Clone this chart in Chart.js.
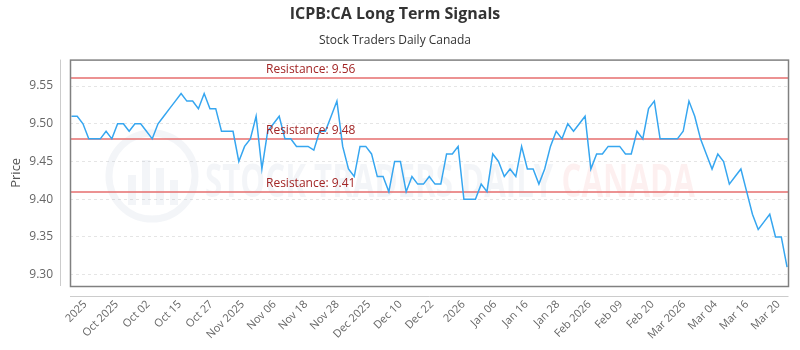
<!DOCTYPE html>
<html>
<head>
<meta charset="utf-8">
<script src="https://cdn.jsdelivr.net/npm/chart.js@4/dist/chart.umd.min.js"></script>
<style>
  html, body { margin: 0; padding: 0; background: #fff; }
  #wrap { width: 800px; height: 350px; }
</style>
</head>
<body>
<div id="wrap"><canvas id="chart"></canvas></div>
<script>
// daily closes, left to right
const prices = [
  9.51, 9.51, 9.50, 9.48, 9.48, 9.48, 9.49, 9.48, 9.50, 9.50,
  9.49, 9.50, 9.50, 9.49, 9.48, 9.50, 9.51, 9.52, 9.53, 9.54,
  9.53, 9.53, 9.52, 9.54, 9.52, 9.52, 9.49, 9.49, 9.49, 9.45,
  9.47, 9.48, 9.51, 9.44, 9.49, 9.50, 9.51, 9.48, 9.48, 9.47,
  9.47, 9.47, 9.465, 9.49, 9.49, 9.51, 9.53, 9.47, 9.44, 9.43,
  9.47, 9.47, 9.46, 9.43, 9.43, 9.41, 9.45, 9.45, 9.41, 9.43,
  9.42, 9.42, 9.43, 9.42, 9.42, 9.46, 9.46, 9.47, 9.40, 9.40,
  9.40, 9.42, 9.41, 9.46, 9.45, 9.43, 9.44, 9.43, 9.47, 9.44,
  9.44, 9.42, 9.44, 9.47, 9.49, 9.48, 9.50, 9.49, 9.50, 9.51,
  9.44, 9.46, 9.46, 9.47, 9.47, 9.47, 9.46, 9.46, 9.49, 9.48,
  9.52, 9.53, 9.48, 9.48, 9.48, 9.48, 9.49, 9.53, 9.51, 9.48,
  9.46, 9.44, 9.46, 9.45, 9.42, 9.43, 9.44, 9.41, 9.38, 9.36,
  9.37, 9.38, 9.35, 9.35, 9.31
];

const tickLabels = [
  "2025", "Oct 2025", "Oct 02", "Oct 15", "Oct 27", "Nov 2025", "Nov 06",
  "Nov 18", "Nov 28", "Dec 2025", "Dec 10", "Dec 22", "2026", "Jan 06",
  "Jan 16", "Jan 28", "Feb 2026", "Feb 09", "Feb 20", "Mar 2026", "Mar 04",
  "Mar 16", "Mar 20"
];

const yTicks = [9.30, 9.35, 9.40, 9.45, 9.50, 9.55];
const resistance = [9.56, 9.48, 9.41];

const FONT = "'Open Sans', 'DejaVu Sans', sans-serif";

// watermark, resistance lines and the frame around the plot
const overlay = {
  id: "overlay",
  beforeDatasetsDraw(chart) {
    const { ctx, chartArea: a, scales } = chart;
    ctx.save();
    // faint watermark
    ctx.globalAlpha = 0.09;
    ctx.strokeStyle = "#7a8fb5";
    ctx.lineWidth = 7;
    ctx.beginPath();
    ctx.arc(152, 176, 43, 0, Math.PI * 2);
    ctx.stroke();
    ctx.fillStyle = "#7a8fb5";
    ctx.fillRect(128, 175, 8, 30);
    ctx.fillRect(142, 160, 8, 45);
    ctx.fillRect(156, 168, 8, 37);
    ctx.fillRect(170, 180, 8, 25);
    ctx.font = "bold 46px " + FONT;
    ctx.textBaseline = "alphabetic";
    ctx.save();
    ctx.translate(205, 197);
    ctx.scale(0.68, 1);
    ctx.fillStyle = "#7a8fb5";
    ctx.fillText("STOCK TRADERS DAILY", 0, 0);
    const w = ctx.measureText("STOCK TRADERS DAILY ").width;
    ctx.fillStyle = "#e85a5a";
    ctx.fillText("CANADA", w, 0);
    ctx.restore();
    ctx.globalAlpha = 1;

    ctx.strokeStyle = "rgba(230, 110, 110, 0.75)";
    ctx.lineWidth = 2;
    resistance.forEach(r => {
      const y = Math.round(scales.y.getPixelForValue(r));
      ctx.beginPath();
      ctx.moveTo(a.left, y);
      ctx.lineTo(a.right, y);
      ctx.stroke();
    });
    ctx.restore();
  },
  afterDatasetsDraw(chart) {
    const { ctx, chartArea: a, scales } = chart;
    ctx.save();
    ctx.font = "12px " + FONT;
    ctx.fillStyle = "#a32626";
    ctx.textAlign = "left";
    ctx.textBaseline = "alphabetic";
    resistance.forEach(r => {
      const y = scales.y.getPixelForValue(r);
      ctx.fillText("Resistance: " + r.toFixed(2), 266, y - 5);
    });

    ctx.strokeStyle = "#808080";
    ctx.lineWidth = 1.5;
    ctx.strokeRect(a.left + 0.5, a.top + 0.5, a.right - a.left - 0.5, a.bottom - a.top);

    ctx.strokeStyle = "#cccccc";
    ctx.lineWidth = 1;
    ctx.beginPath();
    ctx.moveTo(a.left - 9.5, a.top);
    ctx.lineTo(a.left - 9.5, a.bottom);
    ctx.moveTo(a.left, a.bottom + 10.5);
    ctx.lineTo(a.right, a.bottom + 10.5);
    ctx.stroke();
    ctx.restore();
  }
};

new Chart(document.getElementById("chart"), {
  type: "line",
  data: {
    datasets: [{
      label: "Price",
      data: prices.map((p, i) => ({ x: i, y: p })),
      borderColor: "rgb(54, 166, 240)",
      borderWidth: 1.5,
      pointRadius: 0,
      tension: 0,
      fill: false
    }]
  },
  options: {
    responsive: true,
    maintainAspectRatio: false,
    animation: false,
    layout: { padding: { left: 0, right: 10, top: 0, bottom: 0 } },
    plugins: {
      legend: { display: false },
      tooltip: { enabled: false },
      title: {
        display: true,
        text: "ICPB:CA Long Term Signals",
        color: "#333",
        font: { family: FONT, size: 16, weight: "bold" },
        padding: { top: 5, bottom: 6 }
      },
      subtitle: {
        display: true,
        text: "Stock Traders Daily Canada",
        color: "#333",
        font: { family: FONT, size: 12 },
        padding: { top: 3, bottom: 12 }
      }
    },
    scales: {
      x: {
        type: "linear",
        min: -0.25,
        max: prices.length - 0.75,
        border: { display: false },
        grid: { display: false, drawTicks: false },
        afterBuildTicks(scale) {
          const first = 2.4, step = 5.46;
          scale.ticks = tickLabels.map((_, i) => ({ value: first + i * step }));
        },
        afterFit(scale) { scale.height = 64; },
        ticks: {
          autoSkip: false,
          maxRotation: 45,
          minRotation: 45,
          padding: 12,
          color: "#666",
          font: { family: FONT, size: 11 },
          callback: (v, i) => tickLabels[i]
        }
      },
      y: {
        min: 9.285,
        max: 9.585,
        border: { display: false, dash: [3, 3] },
        grid: {
          color: "rgba(0,0,0,0.1)",
          drawTicks: false
        },
        afterBuildTicks(scale) {
          scale.ticks = yTicks.map(v => ({ value: v }));
        },
        afterFit(scale) { scale.width = 70; },
        title: {
          display: true,
          text: "Price",
          color: "#555",
          font: { family: FONT, size: 13 },
          padding: { top: 8, bottom: 0 }
        },
        ticks: {
          padding: 17,
          color: "#666",
          font: { family: FONT, size: 12 },
          callback: v => v.toFixed(2)
        }
      }
    }
  },
  plugins: [overlay]
});
</script>
</body>
</html>
